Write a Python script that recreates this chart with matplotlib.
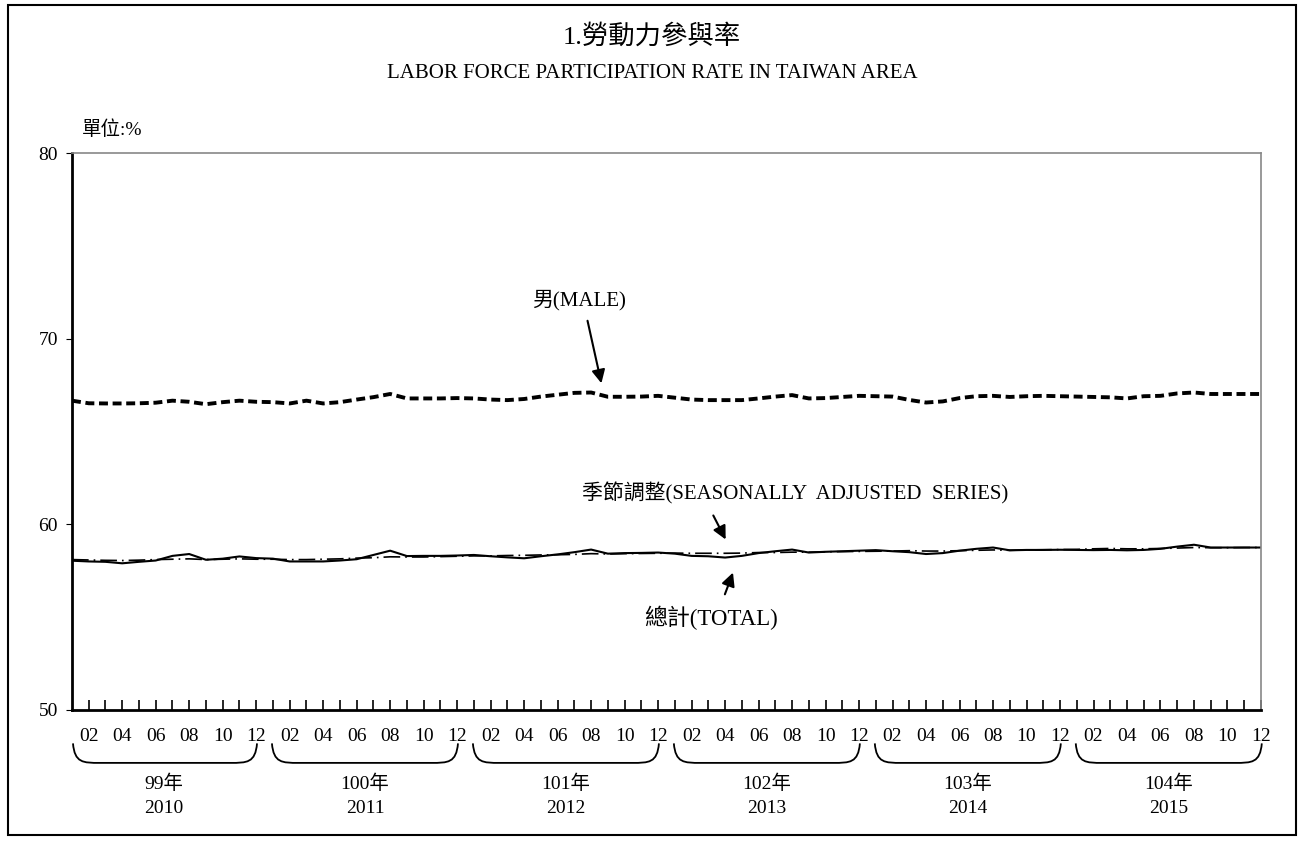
import numpy as np
import matplotlib.pyplot as plt
from matplotlib.patches import PathPatch, Rectangle
from matplotlib.path import Path
import matplotlib.transforms as mtransforms

plt.rcParams['font.family'] = ['Liberation Serif', 'Noto Sans CJK TC']

# monthly data, Jan 2010 - Dec 2015
years_roc = ['99年', '100年', '101年', '102年', '103年', '104年']
years_ad = ['2010', '2011', '2012', '2013', '2014', '2015']
month_labels = ['02', '04', '06', '08', '10', '12']

male = [
    66.66, 66.52, 66.51, 66.51, 66.52, 66.55, 66.66, 66.60, 66.47, 66.58, 66.66, 66.60,
    66.58, 66.51, 66.66, 66.51, 66.58, 66.72, 66.85, 67.02, 66.78, 66.78, 66.78, 66.80,
    66.78, 66.72, 66.69, 66.75, 66.88, 66.98, 67.08, 67.10, 66.87, 66.87, 66.88, 66.92,
    66.82, 66.72, 66.69, 66.69, 66.69, 66.78, 66.88, 66.96, 66.78, 66.80, 66.86, 66.92,
    66.90, 66.88, 66.70, 66.56, 66.62, 66.80, 66.90, 66.92, 66.86, 66.90, 66.92, 66.90,
    66.88, 66.86, 66.84, 66.78, 66.90, 66.92, 67.05, 67.10, 67.02, 67.02, 67.02, 67.02,
]
total = [
    58.04, 58.00, 57.98, 57.90, 57.98, 58.05, 58.30, 58.40, 58.09, 58.15, 58.27, 58.18,
    58.15, 58.00, 58.00, 58.00, 58.05, 58.12, 58.35, 58.58, 58.29, 58.30, 58.30, 58.32,
    58.35, 58.28, 58.22, 58.17, 58.28, 58.38, 58.50, 58.64, 58.42, 58.45, 58.46, 58.48,
    58.42, 58.30, 58.28, 58.21, 58.30, 58.45, 58.55, 58.64, 58.48, 58.52, 58.55, 58.58,
    58.61, 58.55, 58.50, 58.40, 58.45, 58.58, 58.68, 58.75, 58.60, 58.62, 58.62, 58.63,
    58.62, 58.61, 58.62, 58.60, 58.62, 58.68, 58.80, 58.90, 58.75, 58.75, 58.75, 58.75,
]
seasonal = [
    58.10, 58.08, 58.06, 58.05, 58.07, 58.10, 58.12, 58.14, 58.10, 58.12, 58.14, 58.12,
    58.12, 58.10, 58.10, 58.12, 58.14, 58.18, 58.20, 58.25, 58.24, 58.24, 58.26, 58.28,
    58.30, 58.30, 58.32, 58.33, 58.35, 58.36, 58.38, 58.42, 58.40, 58.42, 58.43, 58.44,
    58.45, 58.44, 58.44, 58.44, 58.45, 58.48, 58.48, 58.50, 58.50, 58.52, 58.53, 58.54,
    58.55, 58.56, 58.58, 58.56, 58.56, 58.58, 58.60, 58.62, 58.60, 58.62, 58.63, 58.64,
    58.65, 58.68, 58.70, 58.68, 58.68, 58.70, 58.72, 58.75, 58.74, 58.74, 58.75, 58.75,
]

x = np.arange(len(male))

fig = plt.figure(figsize=(13.04, 8.43), dpi=100)
ax = fig.add_axes([0.0552, 0.1578, 0.9118, 0.6607])

ax.plot(x, male, color='black', linewidth=2.8, linestyle=(0, (2.3, 1.2)))
ax.plot(x, seasonal, color='black', linewidth=1.2, linestyle=(0, (10, 3, 1, 3)))
ax.plot(x, total, color='black', linewidth=1.5)

ax.set_xlim(0, 71)
ax.set_ylim(50, 80)
ax.set_yticks([50, 60, 70, 80])
ax.tick_params(axis='y', direction='out', length=4, labelsize=14, pad=6)

# month ticks, labels every other month
ticks = np.arange(1, 72)
labels = [month_labels[(t % 12) // 2] if t % 2 == 1 else '' for t in ticks]
ax.set_xticks(ticks)
ax.set_xticklabels(labels)
ax.tick_params(axis='x', direction='in', length=7, width=1.2, labelsize=14, pad=13)

for side in ['left', 'bottom']:
    ax.spines[side].set_linewidth(2)
for side in ['top', 'right']:
    ax.spines[side].set_color('#888888')
    ax.spines[side].set_linewidth(1.2)

# year braces and labels
trans = mtransforms.blended_transform_factory(ax.transData, ax.transAxes)
ytop, ybot = -0.060, -0.095
for k in range(len(years_ad)):
    x0 = max(12 * k - 0.06, 0.06)
    x1 = 12 * k + 11.05
    verts = [(x0, ytop), (x0 + 0.1, ybot), (x0 + 0.6, ybot), (x0 + 1.6, ybot),
             (x1 - 1.6, ybot),
             (x1 - 0.6, ybot), (x1 - 0.1, ybot), (x1, ytop)]
    codes = [Path.MOVETO, Path.CURVE4, Path.CURVE4, Path.CURVE4,
             Path.LINETO,
             Path.CURVE4, Path.CURVE4, Path.CURVE4]
    ax.add_patch(PathPatch(Path(verts, codes), facecolor='none', edgecolor='black',
                           linewidth=1.3, transform=trans, clip_on=False))
    xm = 12 * k + 5.5
    ax.text(xm, -0.133, years_roc[k], transform=trans, ha='center', va='center', fontsize=14)
    ax.text(xm, -0.176, years_ad[k], transform=trans, ha='center', va='center', fontsize=14)

# annotations
arrow = dict(arrowstyle='-|>', color='black', lw=1.5, mutation_scale=20)
ax.annotate('', xy=(31.65, 67.45), xytext=(30.75, 71.11), arrowprops=arrow)
ax.text(30.28, 72.08, '男(MALE)', ha='center', va='center', fontsize=15)
ax.annotate('', xy=(39.11, 59.05), xytext=(38.22, 60.61), arrowprops=arrow)
ax.text(43.17, 61.69, '季節調整(SEASONALLY  ADJUSTED  SERIES)', ha='center', va='center', fontsize=15)
ax.annotate('', xy=(39.53, 57.54), xytext=(38.93, 56.09), arrowprops=arrow)
ax.text(38.16, 54.96, '總計(TOTAL)', ha='center', va='center', fontsize=16.5)

# titles
fig.text(0.5, 0.957, '1.勞動力參與率', ha='center', va='center', fontsize=19)
fig.text(0.5, 0.913, 'LABOR FORCE PARTICIPATION RATE IN TAIWAN AREA', ha='center', va='center', fontsize=15)
fig.text(0.063, 0.846, '單位:%', ha='left', va='center', fontsize=14)

# outer frame
fig.patches.append(Rectangle((0.006, 0.009), 0.988, 0.985, transform=fig.transFigure,
                             fill=False, edgecolor='black', linewidth=1.5))

fig.savefig('out.png', dpi=100)
